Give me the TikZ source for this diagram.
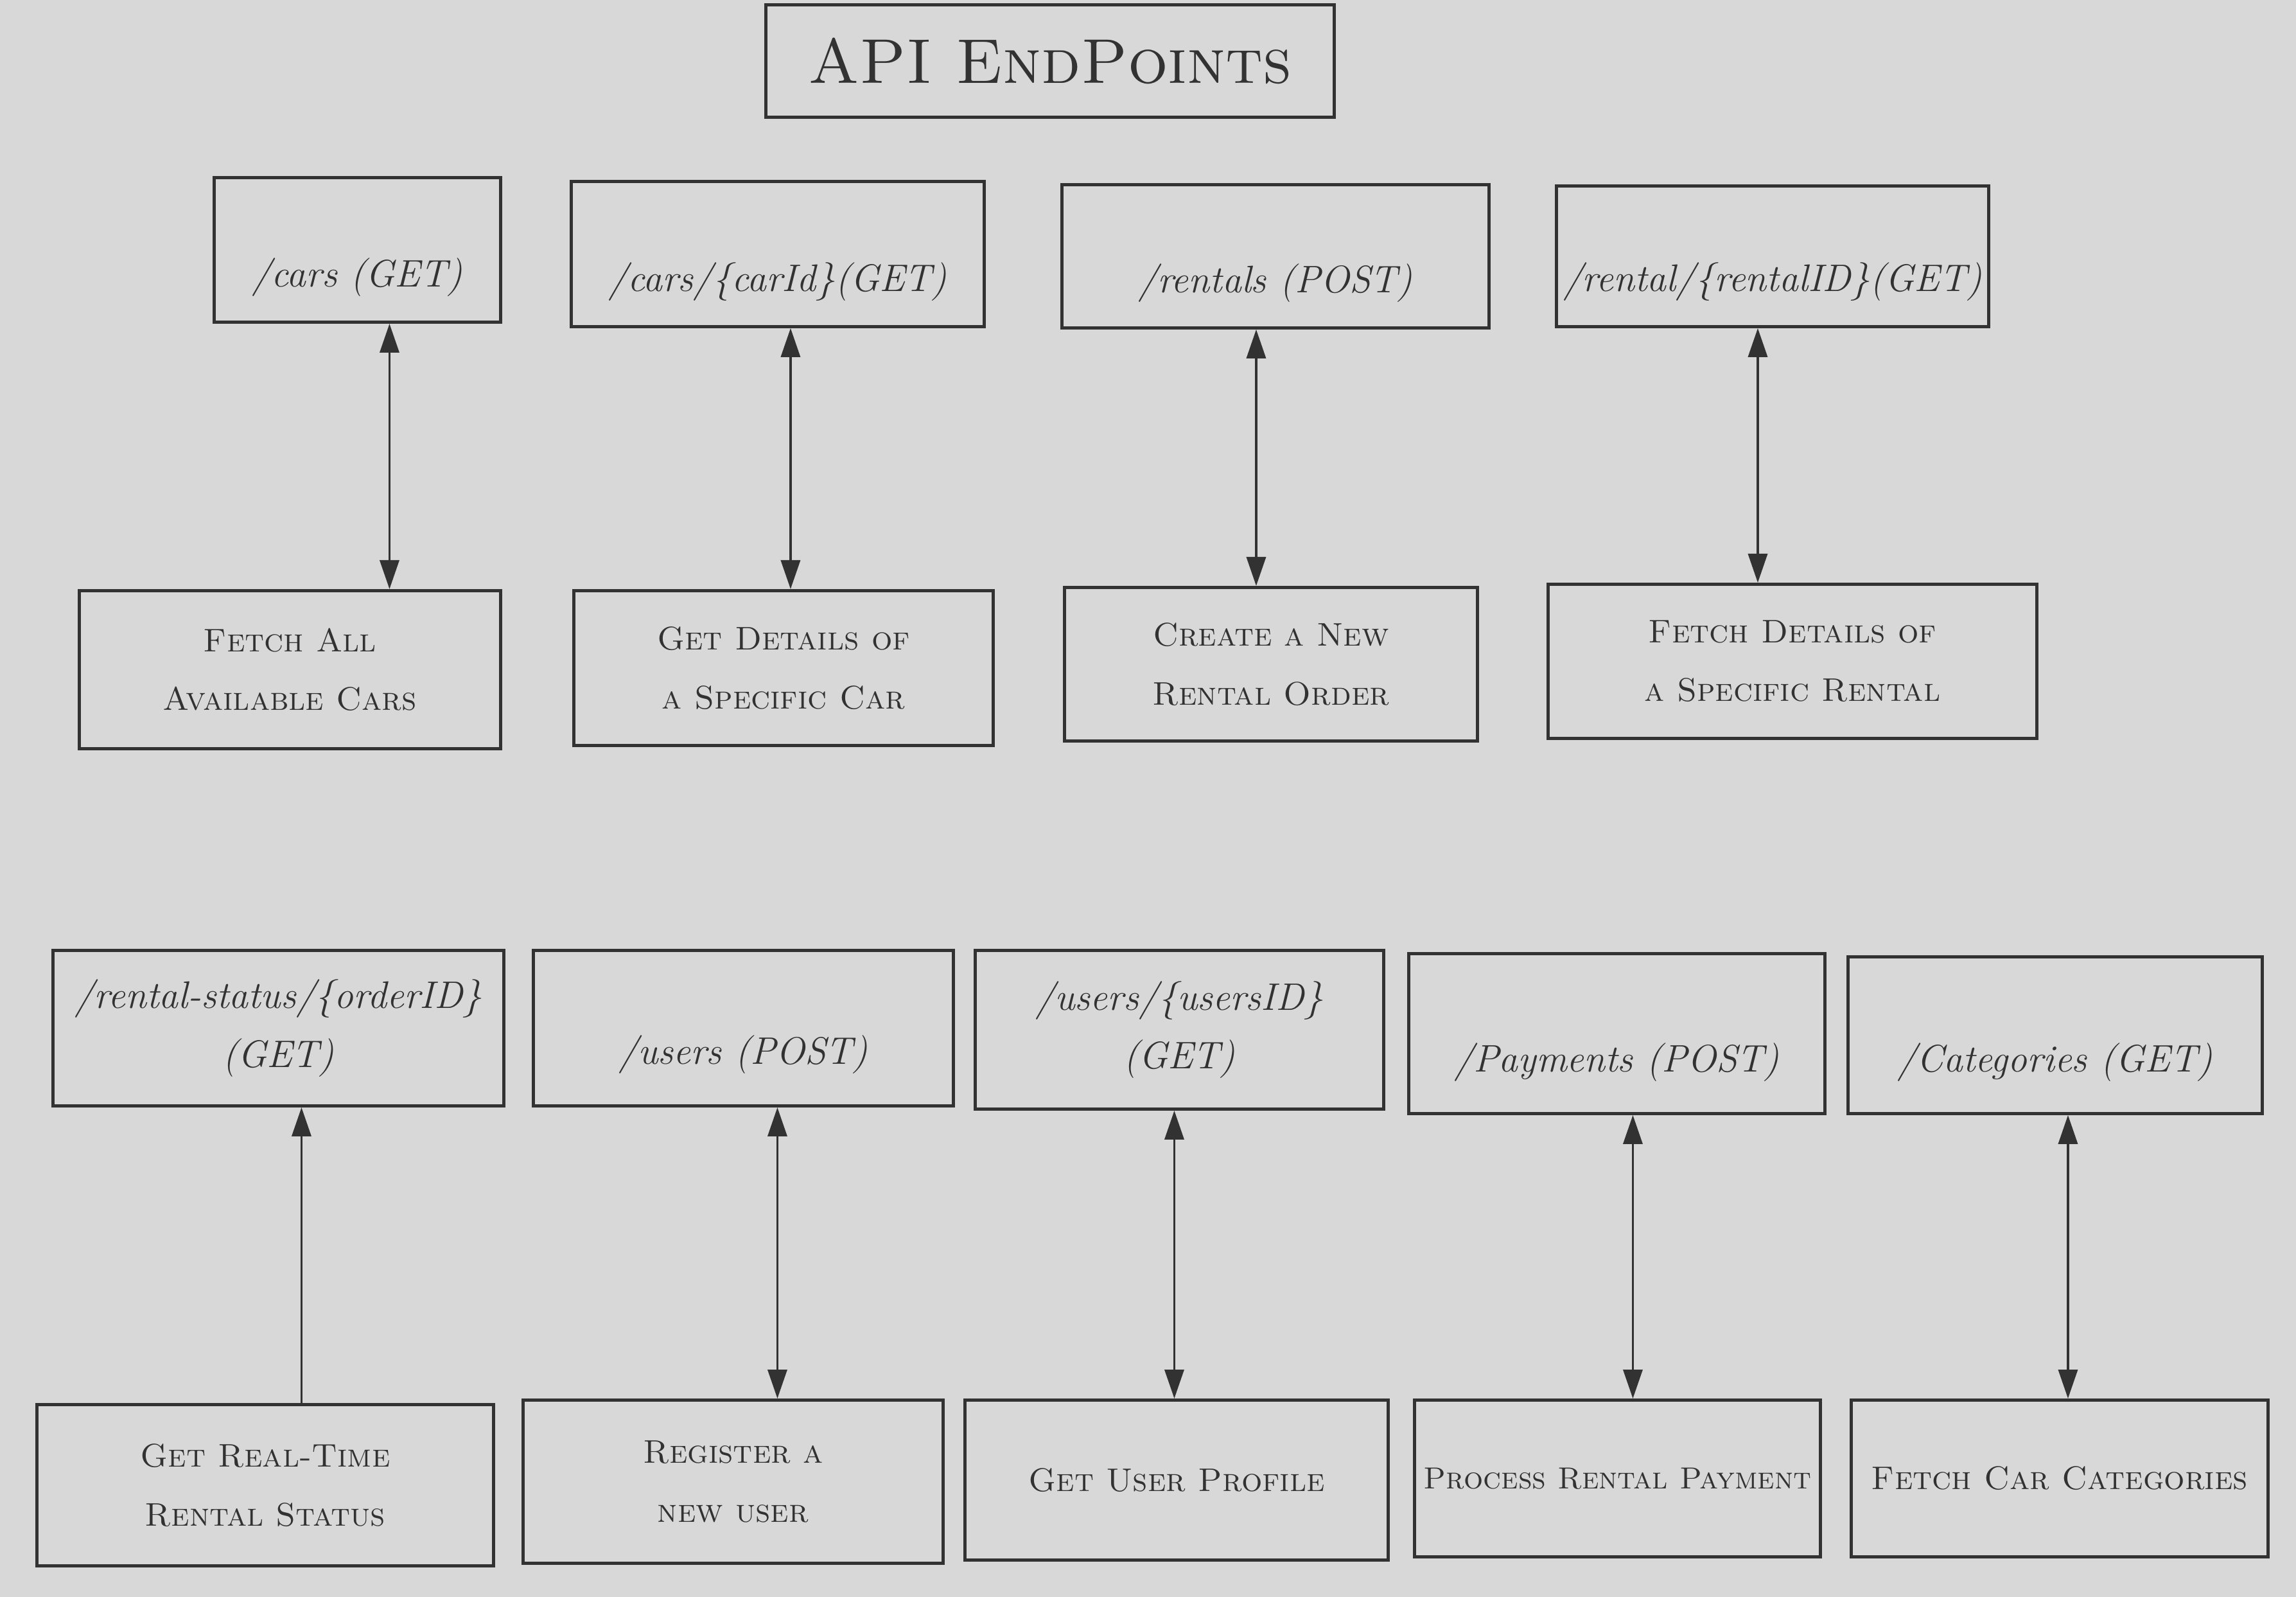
\documentclass[tikz,border=0pt]{standalone}
\usetikzlibrary{arrows.meta}

\definecolor{paper}{RGB}{216,216,216}
\definecolor{ink}{RGB}{50,50,50}

\tikzset{
  apibox/.style={draw=ink, line width=1.4pt, anchor=north west, inner sep=0pt, align=center},
  eptext/.style={font=\fontsize{17}{26}\selectfont\itshape, text=ink, align=center},
  endpoint/.style={apibox, eptext},
  action/.style={apibox, font=\fontsize{14.5}{26}\selectfont\scshape, text=ink},
  link/.style={draw=ink, line width=1pt, {Triangle[length=0.45cm, width=0.3cm]}-{Triangle[length=0.45cm, width=0.3cm]}},
  uplink/.style={draw=ink, line width=1pt, -{Triangle[length=0.45cm, width=0.3cm]}}
}

\begin{document}
\begin{tikzpicture}
  % Paper
  \useasboundingbox[fill=paper] (0,0) rectangle (35.75,-24.86);

  % Title
  \node[apibox, font=\fontsize{28}{32}\selectfont\scshape, text=ink,
        minimum width=8.85cm, minimum height=1.75cm] (title) at (11.90,-0.05) {API EndPoints};

  % Upper row: endpoints
  \node[endpoint, minimum width=4.46cm, minimum height=2.25cm,
        label={[eptext, above=3mm]south:/cars (GET)}] (ep1) at (3.31,-2.74) {};
  \node[endpoint, minimum width=6.43cm, minimum height=2.26cm,
        label={[eptext, above=3mm]south:/cars/\{carId\}(GET)}] (ep2) at (8.87,-2.80) {};
  \node[endpoint, minimum width=6.65cm, minimum height=2.23cm,
        label={[eptext, above=3mm]south:/rentals (POST)}] (ep3) at (16.51,-2.85) {};
  \node[endpoint, minimum width=6.73cm, minimum height=2.19cm,
        label={[eptext, above=3mm]south:/rental/\{rentalID\}(GET)}] (ep4) at (24.21,-2.87) {};

  % Upper row: what they do
  \node[action, minimum width=6.56cm, minimum height=2.46cm] (ds1) at (1.21,-9.17) {Fetch All\\Available Cars};
  \node[action, minimum width=6.53cm, minimum height=2.41cm] (ds2) at (8.91,-9.17) {Get Details of\\a Specific Car};
  \node[action, minimum width=6.43cm, minimum height=2.39cm] (ds3) at (16.55,-9.12) {Create a New\\Rental Order};
  \node[action, minimum width=7.61cm, minimum height=2.40cm] (ds4) at (24.08,-9.07) {Fetch Details of\\a Specific Rental};

  % Lower row: endpoints
  \node[endpoint, minimum width=7.02cm, minimum height=2.42cm] (ep5) at (0.80,-14.77) {/rental-status/\{orderID\}\\(GET)};
  \node[endpoint, minimum width=6.54cm, minimum height=2.42cm,
        label={[eptext, above=4mm]south:/users (POST)}] (ep6) at (8.28,-14.77) {};
  \node[endpoint, minimum width=6.36cm, minimum height=2.47cm] (ep7) at (15.16,-14.77) {/users/\{usersID\}\\(GET)};
  \node[endpoint, minimum width=6.48cm, minimum height=2.49cm,
        label={[eptext, above=4mm]south:/Payments (POST)}] (ep8) at (21.91,-14.82) {};
  \node[endpoint, minimum width=6.45cm, minimum height=2.44cm,
        label={[eptext, above=4mm]south:/Categories (GET)}] (ep9) at (28.75,-14.87) {};

  % Lower row: what they do
  \node[action, minimum width=7.11cm, minimum height=2.51cm] (ds5) at (0.55,-21.84) {Get Real-Time\\Rental Status};
  \node[action, minimum width=6.54cm, minimum height=2.54cm] (ds6) at (8.12,-21.77) {Register a\\new user};
  \node[action, minimum width=6.59cm, minimum height=2.49cm] (ds7) at (15.00,-21.77) {Get User Profile};
  \node[action, font=\fontsize{13.5}{26}\selectfont\scshape,
        minimum width=6.32cm, minimum height=2.44cm] (ds8) at (22.00,-21.77) {Process Rental Payment};
  \node[action, minimum width=6.49cm, minimum height=2.44cm] (ds9) at (28.80,-21.77) {Fetch Car Categories};

  % Two-way arrows
  \foreach \n/\dx in {1/0.50, 2/0.20, 3/-0.30, 4/-0.23, 6/0.53, 7/-0.08, 8/0.25, 9/0.20} {
    \coordinate (a\n) at ([xshift=\dx cm]ep\n.south);
    \draw[link] (a\n) -- (a\n |- ds\n.north);
  }

  % One-way arrow
  \coordinate (a5) at ([xshift=0.36cm]ep5.south);
  \draw[uplink] (a5 |- ds5.north) -- (a5);
\end{tikzpicture}
\end{document}
